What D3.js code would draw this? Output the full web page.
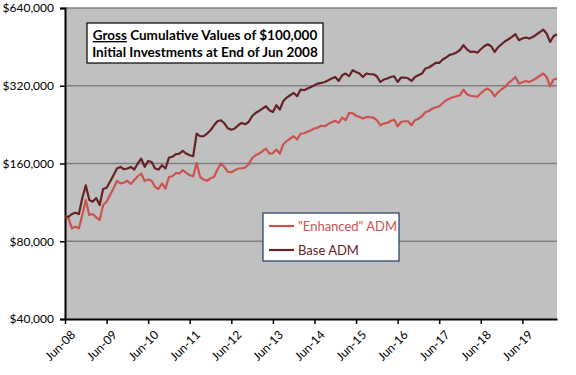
<!DOCTYPE html>
<html>
<head>
<meta charset="utf-8">
<script src="https://cdn.jsdelivr.net/npm/d3@7"></script>
<style>
  body { margin: 0; background: #fff; }
  text { font-family: Lato, "Open Sans", sans-serif; }
</style>
</head>
<body>
<div id="chart"></div>
<script>
// Monthly values (in $000), end of Jun 2008 through Apr 2020
const enhanced = [
  100, 98.1, 89.8, 91.1, 89.8, 101.1, 115.5, 101.1, 102, 99, 96.7, 110.5,
  113.8, 120.8, 128.2, 136.9, 134.1, 134.8, 137.2, 133.3, 138.1, 142.8, 146.3, 136.9,
  138.7, 137.2, 129.8, 127.5, 134.1, 128, 141.9, 142.8, 147.1, 146.3, 150.7, 147.1,
  144.1, 142.8, 160.8, 141.9, 138.7, 137.2, 140.3, 141.9, 151.6, 160, 155.2, 148.4,
  148, 150.7, 153, 153.4, 154.3, 158.9, 167.7, 172.2, 174.8, 178.5, 182.8, 174.8,
  175.3, 181.2, 174.8, 190, 195.6, 199.9, 204, 198.1, 209, 209.5, 212.4, 215.2,
  218.5, 220.4, 224, 223, 228, 231.1, 234.2, 229.7, 241, 235.3, 251.1, 250.4,
  244.9, 242.3, 238.9, 242.3, 241.7, 241, 235.3, 225, 228.4, 229.7, 233.8, 236.8,
  223, 231.7, 233.2, 233.2, 225, 235.3, 238.4, 243.8, 252.7, 255.6, 260.7, 264.2,
  266.6, 273.8, 281.2, 285.5, 288.8, 291.4, 294, 309.3, 296.6, 292.7, 291.4, 290.1,
  299.3, 307.4, 312.1, 304.7, 291.4, 302, 310.2, 316.6, 328.1, 336.1, 346.1, 326.3,
  330.1, 334, 331, 336.1, 342.1, 349.8, 356.8, 346.1, 318.6, 338.2, 341.2
];
const base = [
  100, 99.5, 102, 103.2, 102, 117.6, 131.7, 115.5, 113.8, 117.6, 110.5, 127.4,
  128.9, 136, 144.1, 153, 155.2, 152, 153, 155.2, 151.6, 160, 167.2, 155.2,
  163.7, 162.2, 153, 151.6, 157.5, 153, 168.7, 169.9, 173.8, 174.8, 178.9, 174.8,
  172.2, 170.7, 209, 204, 204, 209, 215.2, 225, 233.2, 235.3, 229, 219,
  216.2, 218.5, 225, 229.7, 227, 231.7, 243.8, 251.1, 255.6, 261.1, 266.6, 257.2,
  253.3, 269, 258.8, 279.4, 288, 294, 300.1, 291.4, 309.3, 307.4, 312.1, 316.6,
  321.4, 326.3, 328.1, 331, 336.1, 341.2, 346.1, 334, 351.4, 356.8, 348.3, 367.4,
  361.9, 356.8, 346.1, 356.8, 354.5, 354.5, 348.3, 331, 338.2, 341.2, 346.1, 348.3,
  331, 344.3, 344.3, 342.1, 334, 346.1, 351.4, 356.8, 373, 376.4, 384.2, 392.2,
  392.2, 404.2, 411.5, 421.2, 424.8, 430.5, 440.1, 459.2, 442.9, 432.5, 434.1, 429.7,
  442.9, 455.1, 463.3, 455.1, 432.5, 451, 463.3, 475.8, 484.4, 494.4, 506.5, 480.1,
  487.4, 491.8, 487.4, 494.4, 504.3, 515.6, 528.2, 509.7, 472.9, 497.5, 506.5
];
const tickLabels = ["Jun-08", "Jun-09", "Jun-10", "Jun-11", "Jun-12", "Jun-13",
  "Jun-14", "Jun-15", "Jun-16", "Jun-17", "Jun-18", "Jun-19"];
const yTicks = [40000, 80000, 160000, 320000, 640000];
const seriesNames = ['"Enhanced" ADM', "Base ADM"];

const margin = {top: 8, right: 19, bottom: 56, left: 65},
      width = 576 - margin.left - margin.right,
      height = 375 - margin.top - margin.bottom;

const svg = d3.select("#chart").append("svg")
    .attr("width", 576)
    .attr("height", 375)
  .append("g")
    .attr("transform", `translate(${margin.left},${margin.top})`);

const x = d3.scaleLinear().domain([0, base.length - 1]).range([0, width]);
const y = d3.scaleLog().domain([40000, 640000]).range([height, 0]);

// plot background
svg.append("rect")
   .attr("width", width)
   .attr("height", height)
   .attr("fill", "#c0c0c0");

// gridlines
svg.selectAll("line.grid")
   .data(yTicks.slice(1))
   .enter().append("line")
   .attr("class", "grid")
   .attr("x1", 0).attr("x2", width)
   .attr("y1", d => y(d)).attr("y2", d => y(d))
   .attr("stroke", "#808080")
   .attr("stroke-width", 1.3);

// y axis
const yAxis = svg.append("g")
   .call(d3.axisLeft(y).tickValues(yTicks).tickSize(5).tickPadding(6)
         .tickFormat(d => "$" + d3.format(",")(d)));
yAxis.select(".domain").attr("stroke", "#000").attr("stroke-width", 2);
yAxis.selectAll(".tick line").attr("stroke", "#000").attr("stroke-width", 1.5);
yAxis.selectAll("text")
   .style("font-size", "12px")
   .style("font-family", "Lato, sans-serif")
   .attr("fill", "#000");

// x axis
const xAxis = svg.append("g")
   .attr("transform", `translate(0,${height})`)
   .call(d3.axisBottom(x).tickValues(tickLabels.map((d, i) => i * 12))
         .tickSize(5).tickSizeOuter(0).tickFormat((d, i) => tickLabels[i]));
xAxis.select(".domain").attr("stroke", "#000").attr("stroke-width", 2);
xAxis.selectAll(".tick line").attr("stroke", "#000").attr("stroke-width", 1.5);
xAxis.selectAll("text")
   .style("font-size", "12px")
   .style("font-family", "Lato, sans-serif")
   .attr("fill", "#000")
   .style("text-anchor", "end")
   .attr("dx", "0")
   .attr("dy", "0")
   .attr("transform", "translate(5,11) rotate(-45)");

// lines
const line = d3.line()
   .x((d, i) => x(i))
   .y(d => y(d * 1000));

svg.append("path")
   .datum(enhanced)
   .attr("fill", "none")
   .attr("stroke", "#cc524f")
   .attr("stroke-width", 2.2)
   .attr("stroke-linejoin", "round")
   .attr("d", line);

svg.append("path")
   .datum(base)
   .attr("fill", "none")
   .attr("stroke", "#652326")
   .attr("stroke-width", 2.2)
   .attr("stroke-linejoin", "round")
   .attr("d", line);

// title box
const tb = svg.append("g").attr("transform", "translate(22,15)");
tb.append("rect")
  .attr("width", 236)
  .attr("height", 40)
  .attr("fill", "#fff")
  .attr("stroke", "#000")
  .attr("stroke-width", 1.2);
const t1 = tb.append("text")
  .attr("x", 118).attr("y", 17)
  .attr("text-anchor", "middle")
  .style("font-size", "13.5px")
  .style("font-weight", "bold")
  .attr("fill", "#000");
t1.append("tspan").style("text-decoration", "underline").text("Gross");
t1.append("tspan").text(" Cumulative Values of $100,000");
tb.append("text")
  .attr("x", 118).attr("y", 34)
  .attr("text-anchor", "middle")
  .style("font-size", "13.5px")
  .style("font-weight", "bold")
  .attr("fill", "#000")
  .text("Initial Investments at End of Jun 2008");

// legend
const lg = svg.append("g").attr("transform", "translate(198,205)");
lg.append("rect")
  .attr("width", 136)
  .attr("height", 48)
  .attr("fill", "#fff")
  .attr("stroke", "#1f3864")
  .attr("stroke-width", 1.2);
const colors = ["#cc524f", "#652326"];
const items = lg.selectAll("g.item")
  .data(seriesNames)
  .enter().append("g")
  .attr("class", "item")
  .attr("transform", (d, i) => `translate(0,${13 + i * 24})`);
items.append("line")
  .attr("x1", 6).attr("x2", 31)
  .attr("stroke", (d, i) => colors[i])
  .attr("stroke-width", 2.2);
items.append("text")
  .attr("x", 35).attr("dy", "0.35em")
  .style("font-size", "13px")
  .attr("fill", (d, i) => colors[i])
  .text(d => d);
</script>
</body>
</html>
